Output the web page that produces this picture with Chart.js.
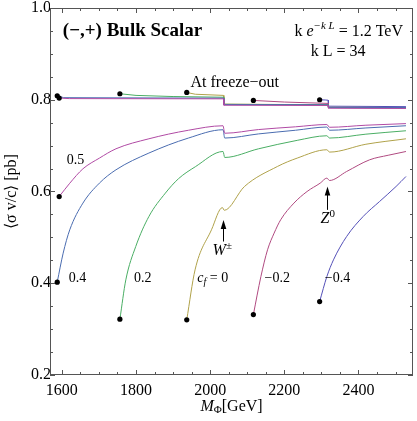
<!DOCTYPE html>
<html>
<head>
<meta charset="utf-8">
<script src="https://cdn.jsdelivr.net/npm/chart.js@4/dist/chart.umd.min.js"></script>
<style>
html,body{margin:0;padding:0;background:#fff;}
#wrap{width:417px;height:421px;}
</style>
</head>
<body>
<div id="wrap"><canvas id="relicChart" width="417" height="421"></canvas></div>
<script>
// tick labels
const xTickValues = [1600, 1800, 2000, 2200, 2400];
const yTickValues = [0.2, 0.4, 0.6, 0.8, 1.0];

// c_f values of the curves
const cfLabels = ["0.5", "0.4", "0.2", "0", "-0.2", "-0.4"];
const cfColors = ["#b04aa4", "#4a6cb0", "#4aae64", "#b0a24a", "#b04a80", "#5450b8"];

// present-day <sigma v/c> vs M_Phi (GeV), one pair per c_f
const mass05 = [1592.8, 1621.3, 1656.8, 1701.3, 1745.9, 1834.7, 1941.3, 2034.7, 2039.2, 2130, 2230, 2314.7, 2321.9, 2420, 2528];
const sigma05 = [0.589, 0.618, 0.6495, 0.6728, 0.6931, 0.7149, 0.7335, 0.7433, 0.727, 0.735, 0.741, 0.746, 0.740, 0.7445, 0.748];
const mass04 = [1587.5, 1603.5, 1621.3, 1656.8, 1701.3, 1745.9, 1834.7, 1941.3, 2034.7, 2039.2, 2130, 2230, 2314.7, 2321.9, 2420, 2528];
const sigma04 = [0.4024, 0.4656, 0.5165, 0.5747, 0.6183, 0.6473, 0.6838, 0.7165, 0.7346, 0.7165, 0.7255, 0.7335, 0.7405, 0.7335, 0.7385, 0.7433];
const mass02 = [1756.5, 1772.5, 1799.2, 1834.7, 1879.2, 1914.7, 1960, 2034.7, 2039.2, 2130, 2234.7, 2314.7, 2321.9, 2420, 2528];
const sigma02 = [0.3217, 0.4074, 0.480, 0.5455, 0.5965, 0.6280, 0.6540, 0.6872, 0.6742, 0.693, 0.7115, 0.7215, 0.7165, 0.725, 0.7324];
const mass0 = [1936.8, 1959.2, 2003.5, 2033, 2038, 2092.5, 2181.3, 2234.7, 2314.7, 2321.9, 2420, 2528];
const sigma0 = [0.3202, 0.4292, 0.5165, 0.565, 0.559, 0.6109, 0.6545, 0.6728, 0.691, 0.6859, 0.703, 0.7149];
const massM02 = [2116.5, 2136.8, 2154.7, 2172.5, 2190.1, 2225.9, 2261.3, 2296.8, 2314.7, 2321.9, 2368, 2430.1, 2480, 2528];
const sigmaM02 = [0.3317, 0.4146, 0.4729, 0.5093, 0.5383, 0.5747, 0.600, 0.6183, 0.6292, 0.624, 0.6436, 0.6691, 0.679, 0.6872];
const massM04 = [2295.2, 2314.7, 2332.5, 2368, 2412.5, 2456.8, 2501.3, 2528];
const sigmaM04 = [0.3601, 0.4146, 0.451, 0.5019, 0.5455, 0.5782, 0.6109, 0.6327];

// <sigma v/c> at freeze-out
const massUp05 = [1592.8, 1620, 2036, 2037, 2318, 2319, 2528];
const sigmaUp05 = [0.8037, 0.8025, 0.802, 0.788, 0.7875, 0.7815, 0.781];
const massUp04 = [1587.5, 1605, 2036, 2037, 2318, 2319, 2528];
const sigmaUp04 = [0.8087, 0.8045, 0.8035, 0.7895, 0.789, 0.7835, 0.783];
const massUp02 = [1756.5, 1800, 1900, 2036, 2037, 2318, 2319, 2528];
const sigmaUp02 = [0.8131, 0.8095, 0.807, 0.8055, 0.790, 0.789, 0.783, 0.7825];
const massUp0 = [1936.8, 1960, 2036, 2037, 2318, 2319, 2528];
const sigmaUp0 = [0.8159, 0.812, 0.8095, 0.7905, 0.789, 0.7835, 0.783];
const massUpM02 = [2116.5, 2200, 2318, 2319, 2528];
const sigmaUpM02 = [0.7985, 0.795, 0.792, 0.783, 0.782];
const massUpM04 = [2295.2, 2310, 2318, 2319, 2528];
const sigmaUpM04 = [0.800, 0.7995, 0.799, 0.786, 0.785];

const lowMass = [mass05, mass04, mass02, mass0, massM02, massM04];
const lowSigma = [sigma05, sigma04, sigma02, sigma0, sigmaM02, sigmaM04];
const upMass = [massUp05, massUp04, massUp02, massUp0, massUpM02, massUpM04];
const upSigma = [sigmaUp05, sigmaUp04, sigmaUp02, sigmaUp0, sigmaUpM02, sigmaUpM04];

const SERIF = "'Liberation Serif','Times New Roman',serif";

function pairs(xs, ys){
  let out = [];
  for(let i=0;i<xs.length;i++){
    out.push({x:xs[i], y:ys[i]});
  }
  return out;
}

let datasets = [];

for(let i=0;i<cfLabels.length;i++){
  datasets.push({
    label:"c_f = "+cfLabels[i],
    data:pairs(lowMass[i], lowSigma[i]),
    borderColor:cfColors[i],
    borderWidth:1,
    cubicInterpolationMode:"monotone",
    pointRadius:c => c.dataIndex === 0 ? 2.6 : 0,
    pointBackgroundColor:"#000",
    pointBorderWidth:0
  });
  datasets.push({
    label:"freeze-out c_f = "+cfLabels[i],
    data:pairs(upMass[i], upSigma[i]),
    borderColor:cfColors[i],
    borderWidth:1,
    tension:0,
    pointRadius:c => c.dataIndex === 0 ? 2.6 : 0,
    pointBackgroundColor:"#000",
    pointBorderWidth:0
  });
}

// draws a row of text pieces with their own fonts and offsets
function drawRuns(ctx, runs, x, y, align){
  let w = 0;
  runs.forEach(r => { ctx.font = r.font; w += ctx.measureText(r.text).width; });
  let cx = x;
  if(align === "right") cx = x - w;
  if(align === "center") cx = x - w/2;
  runs.forEach(r => {
    ctx.font = r.font;
    ctx.fillText(r.text, cx, y + (r.dy || 0));
    cx += ctx.measureText(r.text).width;
  });
}

function arrowUp(ctx, px, tipY, tailY){
  ctx.beginPath();
  ctx.moveTo(px, tailY);
  ctx.lineTo(px, tipY + 6);
  ctx.stroke();
  ctx.beginPath();
  ctx.moveTo(px, tipY);
  ctx.lineTo(px - 2.8, tipY + 9);
  ctx.lineTo(px + 2.8, tipY + 9);
  ctx.closePath();
  ctx.fill();
}

const framePlugin = {
  id:"frame",
  afterDatasetsDraw(chart){
    const ctx = chart.ctx;
    const a = chart.chartArea;
    const xs = chart.scales.x;
    const ys = chart.scales.y;
    ctx.save();
    ctx.strokeStyle = "#555";
    ctx.lineWidth = 1;
    ctx.strokeRect(a.left + 0.5, a.top + 0.5, a.right - a.left - 1, a.bottom - a.top - 1);
    ctx.beginPath();
    for(let v=1600; v<=2500; v+=50){
      let px = Math.round(xs.getPixelForValue(v)) + 0.5;
      let len = xTickValues.includes(v) ? 5 : 3;
      ctx.moveTo(px, a.bottom); ctx.lineTo(px, a.bottom - len);
      ctx.moveTo(px, a.top); ctx.lineTo(px, a.top + len);
    }
    for(let k=0; k<=16; k++){
      let v = 0.2 + k*0.05;
      let py = Math.round(ys.getPixelForValue(v)) + 0.5;
      let len = k % 4 === 0 ? 5 : 3;
      ctx.moveTo(a.left, py); ctx.lineTo(a.left + len, py);
      ctx.moveTo(a.right, py); ctx.lineTo(a.right - len, py);
    }
    ctx.stroke();
    ctx.restore();
  },
  afterDraw(chart){
    const ctx = chart.ctx;
    const a = chart.chartArea;
    const X = v => chart.scales.x.getPixelForValue(v);
    const Y = v => chart.scales.y.getPixelForValue(v);
    const f = (s, st) => (st || "") + " " + s + "px " + SERIF;
    ctx.save();
    ctx.fillStyle = "#000";
    ctx.strokeStyle = "#000";
    ctx.lineWidth = 1;
    ctx.textAlign = "left";
    ctx.textBaseline = "middle";

    drawRuns(ctx, [{text:"(\u2212,+) Bulk Scalar", font:f(19,"bold")}], X(1602.7), Y(0.9505), "left");
    drawRuns(ctx, [
      {text:"k ", font:f(16)},
      {text:"e", font:f(16,"italic")},
      {text:"\u2212k L", font:f(11,"italic"), dy:-6},
      {text:" = 1.2 TeV", font:f(16)}
    ], X(2520), Y(0.9483), "right");
    drawRuns(ctx, [{text:"k L = 34", font:f(16)}], X(2345.3), Y(0.9047), "center");
    drawRuns(ctx, [{text:"At freeze\u2212out", font:f(16)}], X(1946.7), Y(0.837), "left");

    drawRuns(ctx, [{text:"0.5", font:f(14)}], X(1613.3), Y(0.6676), "left");
    drawRuns(ctx, [{text:"0.4", font:f(14)}], X(1618.7), Y(0.4107), "left");
    drawRuns(ctx, [{text:"0.2", font:f(14)}], X(1794.7), Y(0.4107), "left");
    drawRuns(ctx, [
      {text:"c", font:f(14,"italic")},
      {text:"f", font:f(10,"italic"), dy:4},
      {text:" = 0", font:f(14)}
    ], X(1965.3), Y(0.4107), "left");
    drawRuns(ctx, [{text:"\u22120.2", font:f(14)}], X(2146.7), Y(0.4107), "left");
    drawRuns(ctx, [{text:"\u22120.4", font:f(14)}], X(2309.3), Y(0.4107), "left");

    arrowUp(ctx, Math.round(X(2035.5)) + 0.5, Y(0.538), Y(0.491));
    drawRuns(ctx, [
      {text:"W", font:f(16,"italic")},
      {text:"\u00b1", font:f(11), dy:-5}
    ], X(2032.5), Y(0.4707), "center");
    arrowUp(ctx, Math.round(X(2316)) + 0.5, Y(0.611), Y(0.560));
    drawRuns(ctx, [
      {text:"Z", font:f(16,"italic")},
      {text:"0", font:f(11), dy:-5}
    ], X(2317), Y(0.5405), "center");

    drawRuns(ctx, [
      {text:"M", font:f(16,"italic")},
      {text:"\u03a6", font:f(11), dy:4},
      {text:"[GeV]", font:f(16)}
    ], (a.left + a.right)/2, 406.5, "center");

    ctx.translate(12, (a.top + a.bottom)/2);
    ctx.rotate(-Math.PI/2);
    drawRuns(ctx, [{text:"\u27e8\u03c3 v/c\u27e9 [pb]", font:f(16)}], 0, 0, "center");
    ctx.restore();
  }
};

const ctx = document.getElementById("relicChart").getContext("2d");

const chart = new Chart(ctx,{
type:"line",
data:{datasets:datasets},
options:{
animation:false,
responsive:false,
events:[],
layout:{padding:{top:8, right:0, left:0, bottom:0}},
plugins:{legend:{display:false}, tooltip:{enabled:false}},
scales:{
x:{
type:"linear",
min:1568,
max:2547,
grid:{display:false, drawTicks:false},
border:{display:false},
afterBuildTicks:s => { s.ticks = xTickValues.map(v => ({value:v})); },
afterFit:s => { s.height = 46; s.paddingLeft = 0; s.paddingRight = 0; },
ticks:{color:"#000", padding:6, maxRotation:0, font:{family:SERIF, size:16}, callback:v => String(v)}
},
y:{
min:0.2,
max:1.0,
grid:{display:false, drawTicks:false},
border:{display:false},
afterBuildTicks:s => { s.ticks = yTickValues.map(v => ({value:v})); },
afterFit:s => { s.width = 50; s.paddingTop = 0; s.paddingBottom = 0; },
ticks:{color:"#000", padding:-1, font:{family:SERIF, size:16}, callback:v => v.toFixed(1)}
}
}
},
plugins:[framePlugin]
});
</script>
</body>
</html>
